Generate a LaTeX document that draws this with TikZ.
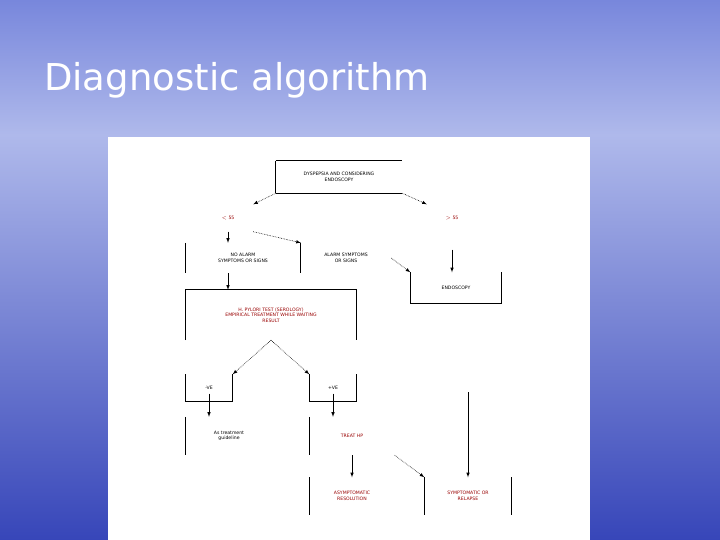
\documentclass[tikz,border=0pt]{standalone}
\usepackage{fontspec}
\setmainfont{DejaVu Sans}
\definecolor{skytop}{RGB}{120,135,220}
\definecolor{skymid}{RGB}{175,185,235}
\definecolor{skybot}{RGB}{55,70,185}
\begin{document}
\begin{tikzpicture}[x=1pt,y=-1pt,
  lbl/.style={font=\fontsize{4.6}{5.4}\selectfont,align=center,inner sep=0pt,text=black},
  rlbl/.style={lbl,text=red!60!black},
  edge/.style={line width=0.8pt},
  sol/.style={-latex,line width=0.6pt},
  dot/.style={-latex,line width=0.6pt,densely dotted}]
\useasboundingbox (0,0) rectangle (720,540);
\shade[top color=skytop, bottom color=skymid] (0,0) rectangle (720,135);
\shade[top color=skymid, bottom color=skybot] (0,134.5) rectangle (720,540);
\node[anchor=west,font=\fontsize{37}{40}\selectfont,text=white,inner sep=0] (title) at (44,80) {Diagnostic algorithm};
\fill[white] (108,137) rectangle (590,540);
% nodes
\node[lbl,minimum width=126,minimum height=32] (top) at (339,177) {DYSPEPSIA AND CONSIDERING\\ENDOSCOPY};
\node[rlbl,minimum width=50,minimum height=27] (lt) at (228,218) {$<$ 55};
\node[rlbl,minimum width=50,minimum height=27] (gt) at (452,218) {$>$ 55};
\node[lbl,minimum width=114,minimum height=30] (noal) at (243,258) {NO ALARM\\SYMPTOMS OR SIGNS};
\node[lbl,minimum width=90,minimum height=30] (al) at (346,258) {ALARM SYMPTOMS\\OR SIGNS};
\node[lbl,minimum width=91,minimum height=31] (endo) at (456,288) {ENDOSCOPY};
\node[rlbl,minimum width=171,minimum height=50] (hp) at (271,315) {H. PYLORI TEST (SEROLOGY)\\EMPIRICAL TREATMENT WHILE WAITING\\RESULT};
\node[lbl,minimum width=47,minimum height=27] (neg) at (209,388) {-VE};
\node[lbl,minimum width=47,minimum height=27] (pos) at (333,388) {+VE};
\node[lbl,minimum width=86,minimum height=38] (astr) at (229,436) {As treatment\\guideline};
\node[rlbl,minimum width=85,minimum height=38] (treat) at (352,436) {TREAT HP};
\node[rlbl,minimum width=85,minimum height=37] (asym) at (352,496) {ASYMPTOMATIC\\RESOLUTION};
\node[rlbl,minimum width=87,minimum height=37] (sym) at (468,496) {SYMPTOMATIC OR\\RELAPSE};
\coordinate (lineTop) at (468,392);
% partial borders
\draw[edge] (top.north west) -- (top.north east) (top.south west) -- (top.south east) (top.north west) -- (top.south west);
\draw[edge] (noal.north west) -- (noal.south west) (noal.north east) -- (noal.south east);
\draw[edge] (endo.north east) -- (endo.south east) -- (endo.south west) -- (endo.north west);
\draw[edge] (hp.south west) -- (hp.north west) -- (hp.north east) -- (hp.south east);
\draw[edge] (neg.north west) -- (neg.south west) -- (neg.south east) -- (neg.north east);
\draw[edge] (pos.north west) -- (pos.south west) -- (pos.south east) -- (pos.north east);
\draw[edge] (astr.north west) -- (astr.south west);
\draw[edge] (treat.north west) -- (treat.south west);
\draw[edge] (asym.north west) -- (asym.south west);
\draw[edge] (sym.north west) -- (sym.south west) (sym.north east) -- (sym.south east);
% connectors
\draw[dot] (top.south west) -- (lt.north east);
\draw[dot] (top.south east) -- (gt.north west);
\draw[sol] (lt.south) -- (noal.north -| lt.south);
\draw[dot] (lt.south east) -- (al.north west);
\draw[dot] (al.east) -- (endo.north west);
\draw[sol] (gt.south) ++(0,18) -- (endo.north -| gt.south);
\draw[sol] (noal.south -| lt.south) -- (hp.north -| lt.south);
\draw[dot] (hp.south) -- (neg.north east);
\draw[dot] (hp.south) -- (pos.north west);
\draw[sol] ([yshift=8]neg.south) -- (neg.south |- astr.north);
\draw[sol] ([yshift=8]pos.south) -- (pos.south |- treat.north);
\draw[sol] (treat.south) -- (asym.north);
\draw[dot] (treat.south east) -- (sym.north west);
\draw[sol] (lineTop) -- (sym.north);
\end{tikzpicture}
\end{document}
